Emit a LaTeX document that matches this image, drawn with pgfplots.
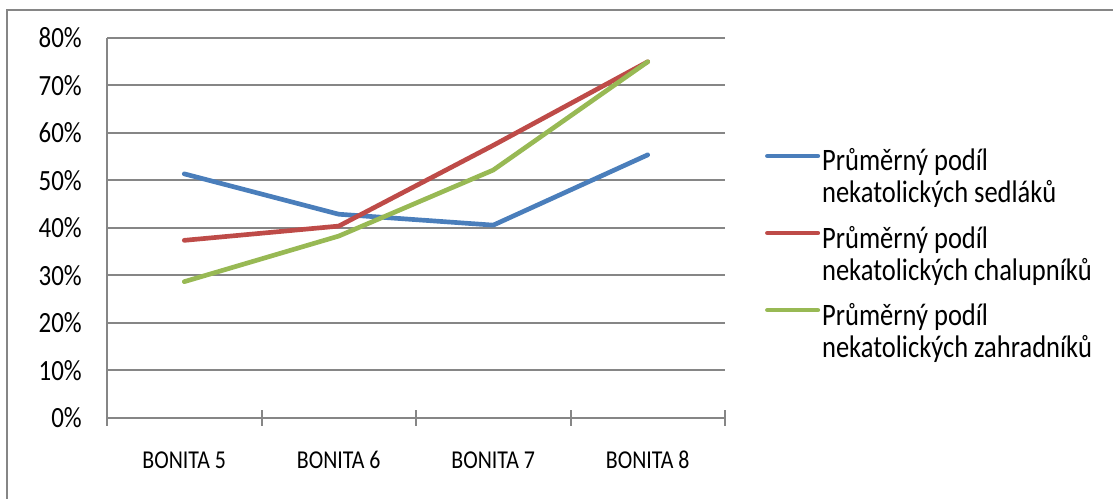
\documentclass[border=0pt]{standalone}
\usepackage{fontspec}
\setmainfont{Carlito}[FakeStretch=0.85]
\usepackage{pgfplots}
\pgfplotsset{compat=1.18}
\definecolor{sblue}{HTML}{4A7EBB}
\definecolor{sred}{HTML}{BE4B48}
\definecolor{sgreen}{HTML}{98B954}
\definecolor{gridcol}{HTML}{868686}
\begin{document}
\begin{tikzpicture}
\path[use as bounding box] (0pt,0pt) rectangle (834.75pt,374.25pt);
\draw[line width=2.2pt, color=gridcol] (5.25pt,0pt) -- (5.25pt,366.75pt) -- (834.75pt,366.75pt);
\begin{axis}[
  at={(80.25pt,60.75pt)}, anchor=south west,
  scale only axis, width=463.5pt, height=285pt,
  xmin=0.5, xmax=4.5, ymin=0, ymax=80,
  axis x line*=bottom, axis y line*=left,
  axis line style={gridcol, line width=1.5pt},
  ytick={0,10,...,80},
  yticklabels={0\%,10\%,20\%,30\%,40\%,50\%,60\%,70\%,80\%},
  ymajorgrids, grid style={gridcol, line width=1.5pt},
  y tick style={draw=none},
  yticklabel style={anchor=east, inner sep=0pt, xshift=-18.75pt,
    font=\fontsize{22}{24}\selectfont},
  xtick={1,2,3,4},
  xticklabels={BONITA 5,BONITA 6,BONITA 7,BONITA 8},
  x tick style={draw=none},
  xticklabel style={anchor=base, inner sep=0pt, yshift=-38.25pt,
    font=\fontsize{19.3}{24}\selectfont},
  extra x ticks={0.5,1.5,2.5,3.5,4.5},
  extra x tick labels={},
  extra x tick style={major tick length=12pt, tick align=center,
    x tick style={draw=gridcol, line width=1.5pt}},
  legend style={draw=none, at={(1.058,0.716)}, anchor=north west,
    font=\fontsize{23.4}{24}\selectfont,
    nodes={align=left, inner sep=0pt, anchor=base west}, row sep=15.75pt,
    column sep=1.5pt},
  legend cell align=left,
  legend image code/.code={\draw[#1] (1.75pt,35.25pt) -- (39.5pt,35.25pt);},
  every axis plot/.append style={line width=3.5pt, line cap=round, line join=round},
]
\addplot[sblue] coordinates {(1,51.4) (2,42.9) (3,40.6) (4,55.4)};
\addplot[sred] coordinates {(1,37.4) (2,40.4) (3,57.4) (4,75.0)};
\addplot[sgreen] coordinates {(1,28.7) (2,38.3) (3,52.2) (4,75.0)};
\legend{Průměrný podíl\\nekatolických sedláků,
        Průměrný podíl\\nekatolických chalupníků,
        Průměrný podíl\\nekatolických zahradníků}
\end{axis}
\end{tikzpicture}
\end{document}
